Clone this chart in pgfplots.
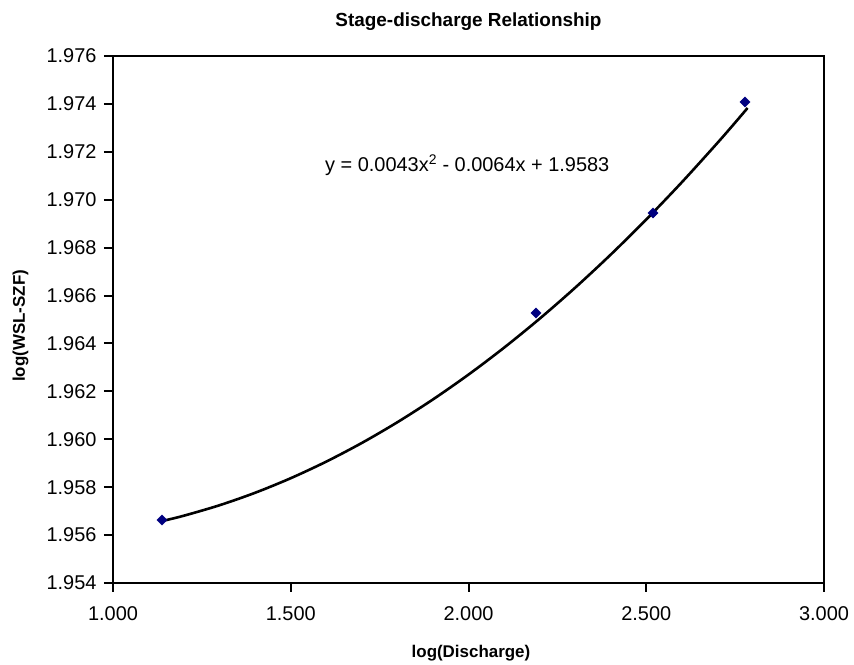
\documentclass[border=0pt]{standalone}
\usepackage{pgfplots}
\pgfplotsset{compat=1.18}
\usepackage{fontspec}
\setmainfont{Liberation Sans}
\usetikzlibrary{calc}
\definecolor{navymark}{RGB}{0,0,128}
\begin{document}
\begin{tikzpicture}
\begin{axis}[
  name=ax,
  scale only axis, width=711bp, height=527bp,
  xmin=1, xmax=3, ymin=1.954, ymax=1.976,
  xtick={1,1.5,2,2.5,3},
  ytick={1.954,1.956,1.958,1.960,1.962,1.964,1.966,1.968,1.970,1.972,1.974,1.976},
  scaled ticks=false,
  tick align=outside, major tick length=9bp,
  xtick pos=bottom, ytick pos=left,
  axis line style={line width=2bp},
  every tick/.style={black, line width=2bp},
  /pgf/number format/assume math mode=true,
  tick label style={font=\fontsize{20}{24}\selectfont},
  xticklabel style={/pgf/number format/.cd, fixed, fixed zerofill, precision=3, /tikz/.cd, yshift=-11bp},
  yticklabel style={/pgf/number format/.cd, fixed, fixed zerofill, precision=3, /tikz/.cd, xshift=-4bp},
  title={Stage-discharge Relationship},
  title style={at={(axis description cs:0.5,1)}, anchor=base, yshift=24bp, font=\bfseries\fontsize{19}{22}\selectfont},
  xlabel={log(Discharge)},
  xlabel style={at={(axis description cs:0.5035,-0.1423)}, anchor=base, font=\bfseries\fontsize{17}{20}\selectfont},
  ylabel={log(WSL-SZF)},
  ylabel style={at={(axis description cs:-0.1238,0.488)}, anchor=base, font=\bfseries\fontsize{17}{20}\selectfont},
]
% polynomial trendline
\addplot[black, line width=2.6bp, smooth] coordinates {
 (1.14,1.956592) (1.2,1.956812) (1.3,1.957247) (1.4,1.957768) (1.5,1.958375)
 (1.6,1.959068) (1.7,1.959847) (1.8,1.960712) (1.9,1.961663) (2.0,1.962700)
 (2.1,1.963823) (2.2,1.965032) (2.3,1.966327) (2.4,1.967708) (2.5,1.969175)
 (2.6,1.970728) (2.7,1.972367) (2.75,1.973219) (2.785,1.973830)
};
% observed points
\addplot[only marks, mark=square*, mark size=3.6bp, mark options={fill=navymark, draw=navymark, rotate=45}] coordinates {
 (1.138,1.95663) (2.19,1.96527) (2.519,1.96945) (2.778,1.97408)
};
\node[anchor=base west, inner sep=0, font=\fontsize{20}{24}\selectfont] at (axis cs:1.5963,1.97116) {y = 0.0043x\textsuperscript{2} - 0.0064x + 1.9583};
\end{axis}
\pgfresetboundingbox
\path ($(ax.south west)+(-113bp,-82bp)$) rectangle ($(ax.north east)+(30bp,56bp)$);
\end{tikzpicture}
\end{document}
